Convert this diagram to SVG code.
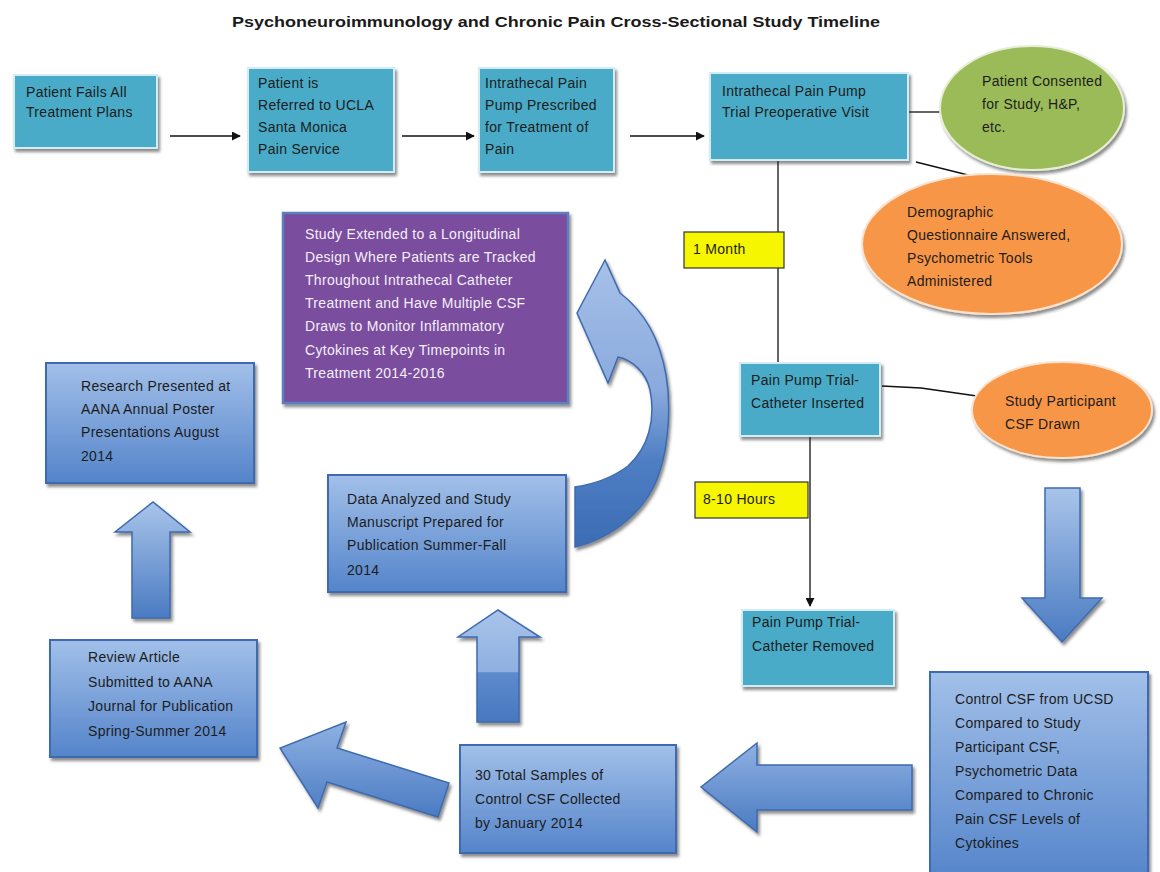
<svg xmlns="http://www.w3.org/2000/svg" width="1160" height="872" viewBox="0 0 1160 872">
<defs>
<filter id="sh" x="-10%" y="-10%" width="130%" height="140%"><feDropShadow dx="2" dy="3" stdDeviation="1.6" flood-color="#333" flood-opacity="0.55"/></filter>
<linearGradient id="blueG" x1="0" y1="0" x2="0" y2="1"><stop offset="0" stop-color="#A2C0E9"/><stop offset="1" stop-color="#5484CA"/></linearGradient>
<linearGradient id="arrG" x1="0" y1="0" x2="0" y2="1"><stop offset="0" stop-color="#A9C4EA"/><stop offset="1" stop-color="#4A7BC2"/></linearGradient>
<linearGradient id="arrU" x1="0" y1="0" x2="0" y2="1"><stop offset="0" stop-color="#A9C4EA"/><stop offset="0.55" stop-color="#8EB0E0"/><stop offset="0.56" stop-color="#5C8BCD"/><stop offset="1" stop-color="#4877BF"/></linearGradient>
<linearGradient id="arrL" x1="0" y1="0" x2="0" y2="1"><stop offset="0" stop-color="#8FB1E2"/><stop offset="1" stop-color="#4A7BC2"/></linearGradient>
<linearGradient id="curveG" x1="0" y1="0" x2="0" y2="1"><stop offset="0" stop-color="#A6C0E8"/><stop offset="0.45" stop-color="#8AAADD"/><stop offset="0.7" stop-color="#4E7EC3"/><stop offset="1" stop-color="#3C6CB4"/></linearGradient>
<marker id="ah" viewBox="0 0 10 10" refX="9" refY="5" markerWidth="9" markerHeight="9" markerUnits="userSpaceOnUse" orient="auto"><path d="M0,0 L10,5 L0,10 z" fill="#111"/></marker>
<style>
.t{font-family:"Liberation Sans",Arial,sans-serif;font-size:14px;letter-spacing:0.3px;fill:#1c1c1c}
.w{fill:#F4F0F8}
.teal{fill:#4AABC7;stroke:#D2ECF3;stroke-width:2;filter:url(#sh)}
.blue{fill:url(#blueG);stroke:#3D6BB0;stroke-width:2;filter:url(#sh)}
.barr{stroke:#3D6BB0;stroke-width:1.5;filter:url(#sh)}
.conn{stroke:#111;stroke-width:1.3;fill:none}
.lbl{fill:#F6F600;stroke:#333;stroke-width:1.2}
.green{fill:#9BBB59;stroke:#E6EED6;stroke-width:2;filter:url(#sh)}
.orange{fill:#F79646;stroke:#FCE3CF;stroke-width:2;filter:url(#sh)}
</style>
</defs>
<rect width="1160" height="872" fill="#ffffff"/>
<text x="232" y="27" textLength="648" lengthAdjust="spacingAndGlyphs" style="font-family:'Liberation Sans',Arial,sans-serif;font-size:15px;font-weight:bold;fill:#1a1a1a">Psychoneuroimmunology and Chronic Pain Cross-Sectional Study Timeline</text>

<g id="connectors">
<line class="conn" x1="170" y1="136" x2="240" y2="136" marker-end="url(#ah)"/>
<line class="conn" x1="402" y1="136" x2="474" y2="136" marker-end="url(#ah)"/>
<line class="conn" x1="630" y1="136" x2="704" y2="136" marker-end="url(#ah)"/>
<line class="conn" x1="908" y1="112" x2="940" y2="112"/>
<line class="conn" x1="916" y1="162" x2="972" y2="176"/>
<line class="conn" x1="778" y1="160" x2="778" y2="372" marker-end="url(#ah)"/>
<polyline class="conn" points="882,386 921,388 977,396"/>
<line class="conn" x1="810" y1="437" x2="810" y2="606" marker-end="url(#ah)"/>
<path id="arr-down" class="barr" fill="url(#arrG)" d="M1045,488 L1080,488 L1080,598 L1102,598 L1062,642 L1022,598 L1045,598 Z"/>
<path id="arr-left" class="barr" fill="url(#arrL)" d="M912,765 L912,810 L757,810 L757,832 L701,787 L757,743 L757,765 Z"/>
<path id="arr-diag" class="barr" fill="url(#arrL)" d="M449,783 L438,817 L327,782 L318,808 L280,748 L346,722 L337,748 Z"/>
<path id="arr-up1" class="barr" fill="url(#arrG)" d="M132,618 L170,618 L170,532 L190,532 L153,502 L115,532 L132,532 Z"/>
<path id="arr-up2" class="barr" fill="url(#arrU)" d="M477,722 L519,722 L519,637 L540,637 L498,610 L458,637 L477,637 Z"/>
<path id="arr-curve" class="barr" fill="url(#curveG)" d="M605,260 L577,313 L608,383 L618,357 C632,360 646,372 650,390 C656,420 648,448 628,466 C612,478 595,484 575,487 L575,547 C605,540 635,520 652,490 C668,460 672,410 666,375 C660,340 645,312 620,293 Z"/>
</g>

<g id="n1"><rect class="teal" x="14" y="75" width="143" height="73"/>
<text class="t" x="26" y="97">Patient Fails All</text><text class="t" x="26" y="117">Treatment Plans</text></g>

<g id="n2"><rect class="teal" x="248" y="68" width="146" height="104"/>
<text class="t" x="258" y="88">Patient is</text><text class="t" x="258" y="110">Referred to UCLA</text><text class="t" x="258" y="132">Santa Monica</text><text class="t" x="258" y="154">Pain Service</text></g>

<g id="n3"><rect class="teal" x="479" y="68" width="135" height="104"/>
<text class="t" x="485" y="88">Intrathecal Pain</text><text class="t" x="485" y="110">Pump Prescribed</text><text class="t" x="485" y="132">for Treatment of</text><text class="t" x="485" y="154">Pain</text></g>

<g id="n4"><rect class="teal" x="710" y="73" width="198" height="87"/>
<text class="t" x="722" y="96">Intrathecal Pain Pump</text><text class="t" x="722" y="117">Trial Preoperative Visit</text></g>

<g id="n5"><ellipse class="green" cx="1032" cy="108" rx="92" ry="62"/>
<text class="t" x="982" y="86">Patient Consented</text><text class="t" x="982" y="109">for Study, H&amp;P,</text><text class="t" x="982" y="132">etc.</text></g>

<g id="n6"><ellipse class="orange" cx="992" cy="244" rx="130" ry="70"/>
<text class="t" x="907" y="217">Demographic</text><text class="t" x="907" y="240">Questionnaire Answered,</text><text class="t" x="907" y="263">Psychometric Tools</text><text class="t" x="907" y="286">Administered</text></g>

<g id="n7"><rect class="lbl" x="684" y="232" width="100" height="36"/>
<text class="t" x="693" y="254">1 Month</text></g>

<g id="n8"><rect class="teal" x="740" y="363" width="140" height="73"/>
<text class="t" x="751" y="385">Pain Pump Trial-</text><text class="t" x="751" y="408">Catheter Inserted</text></g>

<g id="n9"><ellipse class="orange" cx="1062" cy="410" rx="90" ry="48"/>
<text class="t" x="1005" y="406">Study Participant</text><text class="t" x="1005" y="429">CSF Drawn</text></g>

<g id="n10"><rect class="lbl" x="695" y="482" width="113" height="36"/>
<text class="t" x="703" y="504">8-10 Hours</text></g>

<g id="n11"><rect class="teal" x="742" y="610" width="152" height="76"/>
<text class="t" x="752" y="627">Pain Pump Trial-</text><text class="t" x="752" y="651">Catheter Removed</text></g>

<g id="n12"><rect class="blue" x="930" y="672" width="218" height="210"/>
<text class="t" x="955" y="704">Control CSF from UCSD</text><text class="t" x="955" y="728">Compared to Study</text><text class="t" x="955" y="752">Participant CSF,</text><text class="t" x="955" y="776">Psychometric Data</text><text class="t" x="955" y="800">Compared to Chronic</text><text class="t" x="955" y="824">Pain CSF Levels of</text><text class="t" x="955" y="848">Cytokines</text></g>

<g id="n13"><rect class="blue" x="460" y="745" width="216" height="108"/>
<text class="t" x="475" y="780">30 Total Samples of</text><text class="t" x="475" y="804">Control CSF Collected</text><text class="t" x="475" y="828">by January 2014</text></g>

<g id="n14"><rect class="blue" x="50" y="640" width="207" height="117"/>
<text class="t" x="88" y="662">Review Article</text><text class="t" x="88" y="687">Submitted to AANA</text><text class="t" x="88" y="711">Journal for Publication</text><text class="t" x="88" y="736">Spring-Summer 2014</text></g>

<g id="n15"><rect class="blue" x="46" y="363" width="208" height="120"/>
<text class="t" x="81" y="391">Research Presented at</text><text class="t" x="81" y="414">AANA Annual Poster</text><text class="t" x="81" y="437">Presentations August</text><text class="t" x="81" y="461">2014</text></g>

<g id="n16"><rect class="blue" x="328" y="475" width="238" height="117"/>
<text class="t" x="347" y="504">Data Analyzed and Study</text><text class="t" x="347" y="527">Manuscript Prepared for</text><text class="t" x="347" y="550">Publication Summer-Fall</text><text class="t" x="347" y="575">2014</text></g>

<g id="n17"><rect x="283" y="213" width="285" height="190" fill="#7A4E9E" stroke="#5B7FC2" stroke-width="2.5" filter="url(#sh)"/>
<text class="t w" x="305" y="239">Study Extended to a Longitudinal</text><text class="t w" x="305" y="262">Design Where Patients are Tracked</text><text class="t w" x="305" y="285">Throughout Intrathecal Catheter</text><text class="t w" x="305" y="308">Treatment and Have Multiple CSF</text><text class="t w" x="305" y="331">Draws to Monitor Inflammatory</text><text class="t w" x="305" y="355">Cytokines at Key Timepoints in</text><text class="t w" x="305" y="378">Treatment 2014-2016</text></g>
</svg>
